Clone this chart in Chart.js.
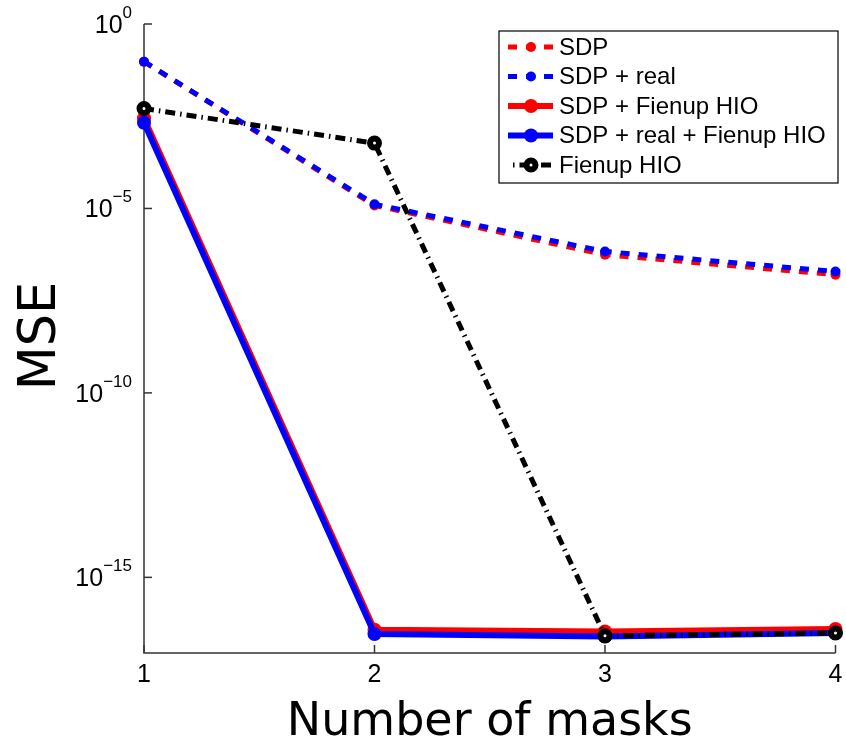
<!DOCTYPE html>
<html>
<head>
<meta charset="utf-8">
<script src="https://cdn.jsdelivr.net/npm/chart.js@4.4.1/dist/chart.umd.min.js"></script>
<style>
  html, body { margin: 0; background: #fff; }
</style>
</head>
<body>
<canvas id="mseChart" width="846" height="747"></canvas>
<script>
// MSE against the number of masks, one series per method
const masks = [1, 2, 3, 4];
const sdp = [9.5e-2, 1.2e-5, 5.6e-7, 1.6e-7];
const sdpReal = [9.5e-2, 1.3e-5, 6.8e-7, 1.95e-7];
const sdpFienup = [2.8e-3, 3.8e-17, 3.4e-17, 4.0e-17];
const sdpRealFienup = [2.1e-3, 2.9e-17, 2.5e-17, 3.1e-17];
const fienup = [5.1e-3, 5.9e-4, 2.6e-17, 3.1e-17];

const seriesNames = ["SDP", "SDP + real", "SDP + Fienup HIO", "SDP + real + Fienup HIO", "Fienup HIO"];
const yTicks = [1e0, 1e-5, 1e-10, 1e-15];
const yTickExp = ["0", "\u22125", "\u221210", "\u221215"];

const toPoints = (vals) => vals.map((v, i) => ({ x: masks[i], y: v }));

const tickFont = "25px 'Liberation Sans', Arial, sans-serif";
const supFont = "17px 'Liberation Sans', Arial, sans-serif";
const xTitleFont = "46px 'DejaVu Sans', sans-serif";
const yTitleFont = "51px 'DejaVu Sans', sans-serif";
const legendFont = "24px 'Liberation Sans', Arial, sans-serif";

// axes, inward ticks, tick labels and axis titles
const matlabAxes = {
  id: "matlabAxes",
  beforeDatasetsDraw(chart) {
    const { ctx, chartArea: a, scales } = chart;
    ctx.save();
    ctx.strokeStyle = "#333";
    ctx.lineWidth = 1.5;
    ctx.beginPath();
    ctx.moveTo(a.left, a.top);
    ctx.lineTo(a.left, a.bottom);
    ctx.lineTo(a.right, a.bottom);
    ctx.stroke();

    ctx.fillStyle = "#000";
    // y ticks
    yTicks.forEach((t, i) => {
      const y = scales.y.getPixelForValue(t);
      ctx.beginPath();
      ctx.moveTo(a.left, y);
      ctx.lineTo(a.left + 8, y);
      ctx.stroke();
      ctx.font = supFont;
      const w2 = ctx.measureText(yTickExp[i]).width;
      ctx.font = tickFont;
      const w1 = ctx.measureText("10").width;
      const x0 = a.left - 12 - w1 - w2;
      ctx.textAlign = "left";
      ctx.textBaseline = "alphabetic";
      ctx.fillText("10", x0, y + 9);
      ctx.font = supFont;
      ctx.fillText(yTickExp[i], x0 + w1, y - 6);
    });
    // x ticks
    masks.forEach((m) => {
      const x = scales.x.getPixelForValue(m);
      ctx.beginPath();
      ctx.moveTo(x, a.bottom);
      ctx.lineTo(x, a.bottom - 8);
      ctx.stroke();
      ctx.font = tickFont;
      ctx.textAlign = "center";
      ctx.fillText(String(m), x, a.bottom + 29);
    });

    // axis titles
    ctx.font = xTitleFont;
    ctx.textAlign = "center";
    ctx.fillText("Number of masks", (a.left + a.right) / 2, 735);
    ctx.font = yTitleFont;
    ctx.translate(55, 336);
    ctx.rotate(-Math.PI / 2);
    ctx.fillText("MSE", 0, 0);
    ctx.restore();
  },
  afterDraw(chart) {
    const { ctx } = chart;
    const box = { x: 499, y: 31, w: 339, h: 152 };
    ctx.save();
    ctx.fillStyle = "#fff";
    ctx.fillRect(box.x, box.y, box.w, box.h);
    ctx.strokeStyle = "#000";
    ctx.lineWidth = 1.2;
    ctx.strokeRect(box.x, box.y, box.w, box.h);

    seriesNames.forEach((name, i) => {
      const ds = chart.data.datasets.find((d) => d.label === name);
      const y = 47 + i * 29.5;
      ctx.strokeStyle = ds.borderColor;
      ctx.lineWidth = ds.borderWidth;
      ctx.lineCap = "butt";
      ctx.setLineDash(ds.borderDash || []);
      ctx.lineDashOffset = ds.legendDashOffset || 0;
      ctx.beginPath();
      ctx.moveTo(508, y);
      ctx.lineTo(553, y);
      ctx.stroke();
      ctx.setLineDash([]);
      ctx.beginPath();
      ctx.arc(531, y, ds.pointRadius, 0, Math.PI * 2);
      ctx.fillStyle = ds.pointBackgroundColor;
      ctx.fill();
      if (ds.pointBorderWidth) {
        ctx.lineWidth = ds.pointBorderWidth;
        ctx.strokeStyle = ds.pointBorderColor;
        ctx.stroke();
      }
      ctx.fillStyle = "#000";
      ctx.font = legendFont;
      ctx.textAlign = "left";
      ctx.textBaseline = "middle";
      ctx.fillText(name, 559, y + 1);
    });
    ctx.restore();
  },
};

new Chart(document.getElementById("mseChart"), {
  type: "line",
  data: {
    datasets: [
      {
        label: "SDP",
        data: toPoints(sdp),
        borderColor: "#ff0000",
        borderWidth: 5,
        borderDash: [9, 9],
        legendDashOffset: 0,
        pointRadius: 5,
        pointBorderWidth: 0,
        pointBackgroundColor: "#ff0000",
        order: 5,
      },
      {
        label: "SDP + real",
        data: toPoints(sdpReal),
        borderColor: "#0000ff",
        borderWidth: 5,
        borderDash: [9, 9],
        pointRadius: 5,
        pointBorderWidth: 0,
        pointBackgroundColor: "#0000ff",
        order: 4,
      },
      {
        label: "SDP + Fienup HIO",
        data: toPoints(sdpFienup),
        borderColor: "#ff0000",
        borderWidth: 6,
        pointRadius: 7,
        pointBorderWidth: 0,
        pointBackgroundColor: "#ff0000",
        order: 3,
      },
      {
        label: "SDP + real + Fienup HIO",
        data: toPoints(sdpRealFienup),
        borderColor: "#0000ff",
        borderWidth: 6,
        pointRadius: 7,
        pointBorderWidth: 0,
        pointBackgroundColor: "#0000ff",
        order: 2,
      },
      {
        label: "Fienup HIO",
        data: toPoints(fienup),
        borderColor: "#000000",
        borderWidth: 5,
        borderDash: [10, 5, 1.5, 5],
        legendDashOffset: 10,
        pointRadius: 4.5,
        pointBorderWidth: 6,
        pointBorderColor: "#000000",
        pointBackgroundColor: "#ffffff",
        order: 1,
      },
    ],
  },
  options: {
    responsive: false,
    animation: false,
    devicePixelRatio: 1,
    layout: {
      padding: { left: 144, top: 24, right: 8, bottom: 94 },
    },
    elements: {
      line: { tension: 0, borderCapStyle: "butt", borderJoinStyle: "round" },
      point: { pointStyle: "circle", hoverRadius: 0 },
    },
    datasets: { line: { clip: false } },
    scales: {
      x: { type: "linear", min: 1, max: 4, display: false },
      y: { type: "logarithmic", min: 8.9e-18, max: 1, display: false },
    },
    plugins: {
      legend: { display: false },
      tooltip: { enabled: false },
    },
  },
  plugins: [matlabAxes],
});
</script>
</body>
</html>
